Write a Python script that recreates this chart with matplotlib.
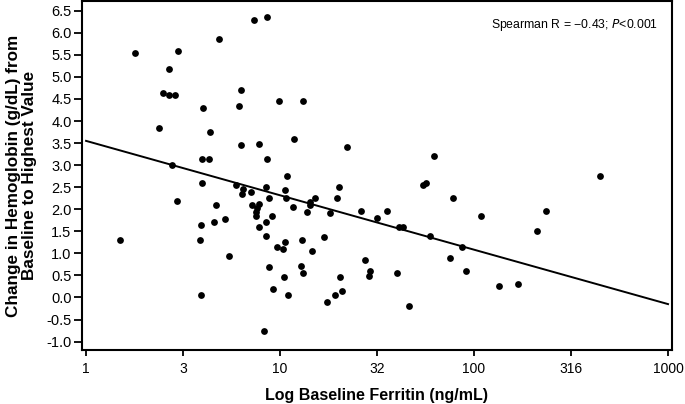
import matplotlib
matplotlib.use("Agg")
import matplotlib.pyplot as plt
import numpy as np

plt.rcParams['font.family'] = ['Liberation Sans', 'DejaVu Sans']

ferritin = [1.79, 2.99, 2.68, 2.49, 2.69, 2.87, 2.38, 4.02, 4.37, 3.98,
            4.32, 2.79, 4.87, 7.35, 8.54, 6.32, 6.13, 9.92, 6.27, 7.82,
            8.57, 11.8, 10.8, 3.98, 2.93, 5.91, 6.45, 6.39, 7.06, 8.50,
            10.6, 8.81, 10.7, 11.6, 4.66, 7.20, 7.79, 7.58, 7.52, 7.49,
            9.06, 3.91, 4.58, 5.22, 8.47, 7.82, 8.47, 1.50, 3.88, 10.6,
            9.65, 10.4, 13.0, 5.44, 8.81, 12.8, 10.5, 9.17, 11.0, 3.93,
            8.24, 13.2, 22.2, 62.0, 20.1, 15.2, 14.3, 14.3, 19.6, 13.8,
            18.0, 26.1, 31.7, 35.6, 40.9, 42.9, 54.8, 56.6, 78.0, 108,
            59.5, 86.7, 16.9, 14.6, 13.1, 27.4, 29.1, 28.7, 20.4, 40.1,
            75.2, 90.9, 17.5, 19.1, 20.9, 46.4, 135, 168, 446, 235, 210]
hb_change = [5.54, 5.59, 5.19, 4.64, 4.60, 4.60, 3.85, 4.30, 3.74, 3.15,
             3.15, 3.00, 5.85, 6.30, 6.35, 4.70, 4.34, 4.45, 3.45, 3.49,
             3.15, 3.59, 2.75, 2.60, 2.19, 2.55, 2.46, 2.35, 2.39, 2.50,
             2.44, 2.25, 2.25, 2.05, 2.10, 2.10, 2.11, 2.02, 1.94, 1.85,
             1.85, 1.65, 1.70, 1.79, 1.70, 1.60, 1.40, 1.30, 1.30, 1.26,
             1.15, 1.10, 1.30, 0.95, 0.70, 0.71, 0.46, 0.20, 0.05, 0.05,
             -0.75, 4.45, 3.40, 3.21, 2.50, 2.25, 2.17, 2.10, 2.25, 1.94,
             1.91, 1.95, 1.81, 1.95, 1.60, 1.60, 2.55, 2.59, 2.25, 1.85,
             1.40, 1.15, 1.36, 1.05, 0.55, 0.86, 0.61, 0.49, 0.46, 0.56,
             0.90, 0.61, -0.10, 0.06, 0.15, -0.19, 0.25, 0.31, 2.75, 1.96, 1.50]

fit_x = [1, 1000]
fit_y = [3.55, -0.15]

x_ticks = [1, 10**0.5, 10, 10**1.5, 100, 10**2.5, 1000]
x_ticklabels = ['1', '3', '10', '32', '100', '316', '1000']
y_ticks = [-1.0, -0.5, 0.0, 0.5, 1.0, 1.5, 2.0, 2.5, 3.0, 3.5, 4.0, 4.5, 5.0, 5.5, 6.0, 6.5]

fig = plt.figure(figsize=(6.85, 4.04), dpi=100)
ax = fig.add_axes([0.1197, 0.1337, 0.8613, 0.8638])

ax.scatter(ferritin, hb_change, s=24, color='black', zorder=3, linewidths=0)
ax.plot(fit_x, fit_y, color='black', lw=1.4, zorder=2)

ax.set_xscale('log')
ax.set_xlim(0.953, 1048)
ax.set_ylim(-1.19, 6.72)
ax.set_xticks(x_ticks)
ax.set_xticklabels(x_ticklabels)
ax.xaxis.set_minor_locator(matplotlib.ticker.NullLocator())
ax.set_yticks(y_ticks)
ax.set_yticklabels([f'{v:.1f}' for v in y_ticks])

for s in ax.spines.values():
    s.set_linewidth(1.5)
ax.tick_params(axis='y', direction='out', length=5.5, width=1.3, labelsize=10.5, pad=2)
ax.tick_params(axis='x', direction='out', length=4.5, width=1.3, labelsize=10, pad=4)

ax.set_xlabel('Log Baseline Ferritin (ng/mL)', fontsize=11.5, fontweight='bold', labelpad=9)
ax.set_ylabel('Change in Hemoglobin (g/dL) from\nBaseline to Highest Value', fontsize=12.3,
              fontweight='bold', labelpad=7, linespacing=1.05)

ax.text(0.977, 0.955, 'Spearman R = \u22120.43; $\\it{P}$<0.001', transform=ax.transAxes,
        ha='right', va='top', fontsize=8.8)

fig.savefig('out.png', dpi=100)
